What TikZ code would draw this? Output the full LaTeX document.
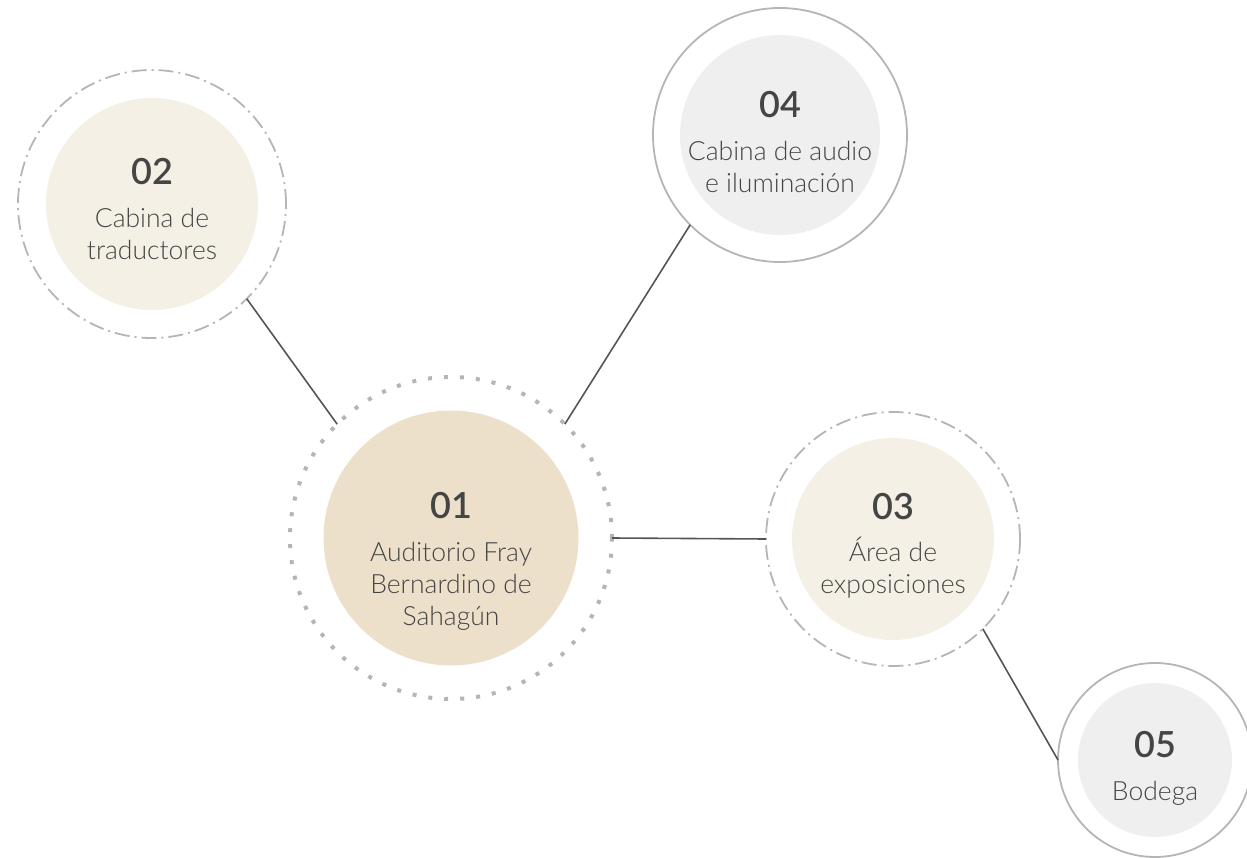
\documentclass[tikz,border=0pt]{standalone}
\usepackage{fontspec}
\setmainfont{Lato}
\newfontfamily\lightfont{Lato Light}
\newfontfamily\semifont{Lato Semibold}
\usetikzlibrary{positioning}
\definecolor{ringgray}{HTML}{B5B5B5}
\definecolor{linkgray}{HTML}{555555}
\definecolor{textgray}{HTML}{454545}
\definecolor{sandfill}{HTML}{EDE0CB}
\definecolor{creamfill}{HTML}{F5F0E6}
\definecolor{greyfill}{HTML}{EFEFEF}

\begin{document}
\begin{tikzpicture}[
    x=1pt, y=-1pt,
    ring/.style={circle, draw=ringgray, line width=1.8pt, inner sep=0pt, outer sep=0pt},
    dashring/.style={ring, dash pattern=on 15pt off 5pt on 2pt off 5pt},
    dotring/.style={ring, line width=4pt, dash pattern=on 4pt off 12pt},
    disc/.style={circle, inner sep=0pt},
    numtext/.style={font=\fontsize{36}{40}\selectfont\semifont, text=textgray, inner sep=0pt},
    nametext/.style={font=\fontsize{26.5}{32}\selectfont\lightfont, text=textgray, align=center, inner sep=0pt},
    link/.style={draw=linkgray, line width=1.6pt}
]
\useasboundingbox (0,0) rectangle (1247,858);

% 1. Outer rings
\node[dotring, minimum size=322pt] (r01) at (451,538) {};
\node[dashring, minimum size=268pt] (r02) at (152,204) {};
\node[dashring, minimum size=254pt] (r03) at (893,539) {};
\node[ring, minimum size=254pt] (r04) at (780,135) {};
\node[ring, minimum size=194pt] (r05) at (1155,760) {};

% 2. Filled discs
\node[disc, fill=sandfill, minimum size=255pt] at (r01) {};
\node[disc, fill=creamfill, minimum size=212pt] at (r02) {};
\node[disc, fill=creamfill, minimum size=202pt] at (r03) {};
\node[disc, fill=greyfill, minimum size=200pt] at (r04) {};
\node[disc, fill=greyfill, minimum size=154pt] at (r05) {};

% 3. Numbers and names
\node[numtext] (n01) at ([yshift=32pt]r01.center) {01};
\node[nametext, below=23pt of n01] {Auditorio Fray\\Bernardino de\\Sahagún};
\node[numtext] (n02) at ([yshift=32pt]r02.center) {02};
\node[nametext, below=23pt of n02] {Cabina de\\traductores};
\node[numtext] (n03) at ([yshift=32pt]r03.center) {03};
\node[nametext, below=16pt of n03] {Área de\\exposiciones}; % accent sits higher
\node[numtext] (n04) at ([yshift=30pt]r04.center) {04};
\node[nametext, below=23pt of n04] {Cabina de audio\\e iluminación};
\node[numtext] (n05) at ([yshift=15pt]r05.center) {05};
\node[nametext, below=23pt of n05] {Bodega};

% 4. Connectors
\draw[link] (r02.-45) -- (r01.135);
\draw[link] (r04.225) -- (r01.45);
\draw[link] (r01.0) -- (r03.180);
\draw[link] (r03.-45) -- (r05.180);

\end{tikzpicture}
\end{document}
